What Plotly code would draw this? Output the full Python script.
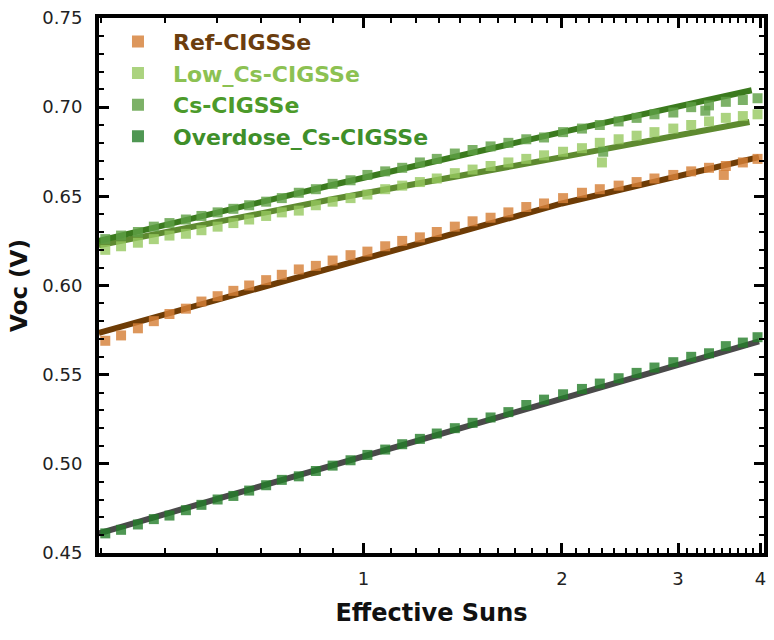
import plotly.graph_objects as go

suns = [0.406, 0.429, 0.455, 0.481, 0.508, 0.538, 0.568, 0.601, 0.635, 0.671,
        0.712, 0.752, 0.798, 0.847, 0.898, 0.956, 1.014, 1.079, 1.145, 1.218,
        1.292, 1.376, 1.464, 1.559, 1.659, 1.766, 1.879, 2.008, 2.145, 2.283,
        2.438, 2.596, 2.763, 2.951, 3.141, 3.343, 3.545, 3.762, 3.96]

ref_voc = [0.569, 0.572, 0.576, 0.580, 0.584, 0.587, 0.591, 0.594, 0.597, 0.600,
           0.603, 0.606, 0.609, 0.611, 0.614, 0.617, 0.619, 0.622, 0.625, 0.627,
           0.630, 0.633, 0.636, 0.638, 0.641, 0.644, 0.646, 0.649, 0.652, 0.654,
           0.656, 0.658, 0.660, 0.662, 0.664, 0.666, 0.667, 0.669, 0.671]
ref_extra_x = [3.52]
ref_extra_y = [0.662]

low_cs_voc = [0.620, 0.622, 0.624, 0.626, 0.628, 0.629, 0.631, 0.633, 0.635, 0.637,
              0.639, 0.641, 0.642, 0.645, 0.647, 0.649, 0.651, 0.654, 0.656, 0.658,
              0.660, 0.663, 0.665, 0.667, 0.669, 0.671, 0.673, 0.675, 0.677, 0.680,
              0.682, 0.684, 0.686, 0.688, 0.690, 0.692, 0.694, 0.695, 0.696]
low_cs_extra_x = [2.30]
low_cs_extra_y = [0.669]

cs_voc = [0.626, 0.628, 0.630, 0.633, 0.635, 0.637, 0.639, 0.641, 0.643, 0.645,
          0.647, 0.649, 0.652, 0.654, 0.657, 0.659, 0.662, 0.664, 0.666, 0.669,
          0.671, 0.674, 0.676, 0.678, 0.680, 0.682, 0.683, 0.686, 0.688, 0.690,
          0.692, 0.694, 0.696, 0.697, 0.700, 0.701, 0.703, 0.704, 0.705]
cs_extra_x = [2.31, 3.30]
cs_extra_y = [0.675, 0.698]

over_voc = [0.461, 0.463, 0.466, 0.469, 0.471, 0.474, 0.477, 0.480, 0.482, 0.485,
            0.488, 0.491, 0.493, 0.496, 0.499, 0.502, 0.505, 0.508, 0.511, 0.514,
            0.517, 0.520, 0.523, 0.526, 0.529, 0.533, 0.536, 0.539, 0.542, 0.545,
            0.548, 0.551, 0.554, 0.557, 0.560, 0.562, 0.566, 0.568, 0.571]

# fitted curves
ref_fit_x = [0.397, 0.9, 2.0, 3.98]
ref_fit = [0.5734, 0.610, 0.646, 0.672]
low_cs_fit_x = [0.397, 0.9, 2.0, 3.85]
low_cs_fit = [0.6225, 0.6485, 0.672, 0.6917]
cs_fit_x = [0.397, 0.9, 2.0, 3.88]
cs_fit = [0.625, 0.6565, 0.686, 0.7095]
over_fit_x = [0.397, 3.98]
over_fit = [0.461, 0.5687]

names = ["Ref-CIGSSe", "Low_Cs-CIGSSe", "Cs-CIGSSe", "Overdose_Cs-CIGSSe"]
text_colors = ["#6b3d0e", "#8cc152", "#4c9a2a", "#3f8f2a"]
marker_colors = ["rgba(214,128,56,0.82)", "rgba(150,200,95,0.80)",
                 "rgba(95,160,70,0.82)", "rgba(35,125,40,0.80)"]
line_colors = ["#6e3c06", "#5e8a30", "#3b7a1e", "#4a4a4a"]

FONT = "DejaVu Sans, Liberation Sans, Arial, sans-serif"
fig = go.Figure()

fits = [(ref_fit_x, ref_fit), (low_cs_fit_x, low_cs_fit),
        (cs_fit_x, cs_fit), (over_fit_x, over_fit)]
for (fx, fy), lc in zip(fits, line_colors):
    fig.add_trace(go.Scatter(x=fx, y=fy, mode="lines",
                             line=dict(color=lc, width=6), showlegend=False,
                             hoverinfo="skip"))

series = [
    (suns + ref_extra_x, ref_voc + ref_extra_y),
    (suns + low_cs_extra_x, low_cs_voc + low_cs_extra_y),
    (suns + cs_extra_x, cs_voc + cs_extra_y),
    (suns, over_voc),
]
for (sx, sy), nm, tc, mc in zip(series, names, text_colors, marker_colors):
    fig.add_trace(go.Scatter(
        x=sx, y=sy, mode="markers",
        name=f"<b><span style='color:{tc}'>{nm}</span></b>",
        marker=dict(symbol="square", size=10, color=mc, line=dict(width=0)),
    ))

minor_x = [0.4, 0.5, 0.6, 0.7, 0.8, 0.9] + \
          [1 + k / 10 for k in range(1, 10)] + \
          [2 + k / 10 for k in range(1, 10)] + \
          [3 + k / 10 for k in range(1, 10)]

fig.update_layout(
    width=774, height=640,
    margin=dict(l=99, r=6, t=18, b=87),
    paper_bgcolor="white", plot_bgcolor="white",
    font=dict(family=FONT, size=18, color="#222222"),
    legend=dict(x=0.006, y=0.995, xanchor="left", yanchor="top",
                bgcolor="rgba(0,0,0,0)", font=dict(size=22, family=FONT),
                itemsizing="constant", itemwidth=60, tracegroupgap=0),
    xaxis=dict(
        type="log", range=[-0.401, 0.6075],
        tickvals=[1, 2, 3, 4], ticktext=["1", "2", "3", "4"],
        ticks="inside", ticklen=10, tickwidth=3, tickcolor="black",
        showline=True, linewidth=4, linecolor="black", mirror="ticks",
        showgrid=False, zeroline=False, ticklabelstandoff=6,
        minor=dict(tickvals=minor_x, ticks="inside", ticklen=5, tickwidth=2,
                   tickcolor="black", showgrid=False),
        title=dict(text="<b>Effective Suns</b>", font=dict(size=24, color="#111"),
                   standoff=18),
        tickfont=dict(size=18),
    ),
    yaxis=dict(
        range=[0.45, 0.75], dtick=0.05, tick0=0.45, tickformat=".2f",
        ticks="inside", ticklen=10, tickwidth=3, tickcolor="black",
        showline=True, linewidth=4, linecolor="black", mirror="ticks",
        showgrid=False, zeroline=False, ticklabelstandoff=9,
        minor=dict(dtick=0.01, ticks="inside", ticklen=5, tickwidth=2,
                   tickcolor="black", showgrid=False),
        title=dict(text="<b>Voc (V)</b>", font=dict(size=23, color="#111"),
                   standoff=9),
        tickfont=dict(size=18),
    ),
)

fig.write_html("out.html")
